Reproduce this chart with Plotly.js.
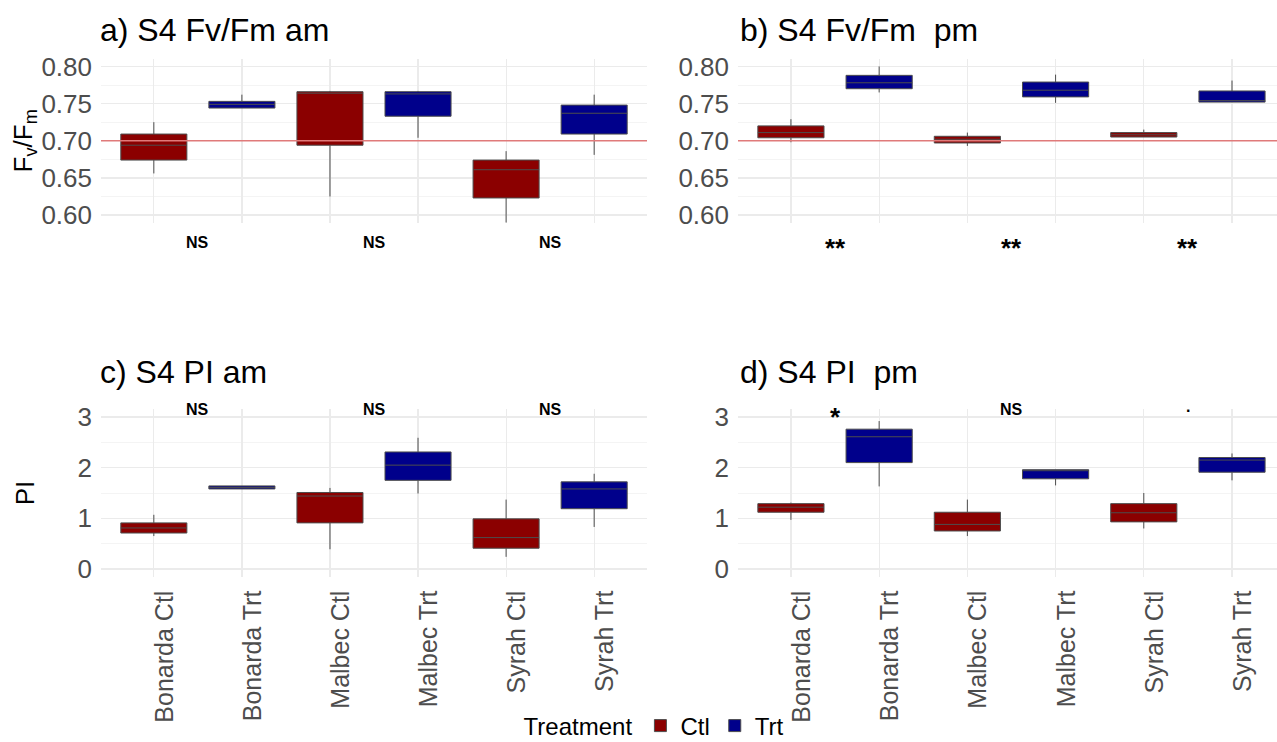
<!DOCTYPE html>
<html>
<head>
<meta charset="utf-8">
<script src="https://cdn.plot.ly/plotly-3.0.1.min.js"></script>
<style>
html,body{margin:0;padding:0;background:#fff;overflow:hidden;}
#chart{width:1277px;height:760px;}
</style>
</head>
<body>
<div id="chart"></div>
<script>
// ---- categories / labels ----
const categories = ['Bonarda Ctl','Bonarda Trt','Malbec Ctl','Malbec Trt','Syrah Ctl','Syrah Trt'];
const ctlCats = ['Bonarda Ctl','Malbec Ctl','Syrah Ctl'];
const trtCats = ['Bonarda Trt','Malbec Trt','Syrah Trt'];
const sigPos = [0.5, 2.5, 4.5];

// ---- a) S4 Fv/Fm am ----
const aCtlQ1  = [0.674, 0.694, 0.623];
const aCtlMed = [0.694, 0.764, 0.661];
const aCtlQ3  = [0.709, 0.766, 0.674];
const aCtlLo  = [0.656, 0.625, 0.589];
const aCtlHi  = [0.725, 0.767, 0.686];
const aTrtQ1  = [0.744, 0.733, 0.709];
const aTrtMed = [0.749, 0.763, 0.737];
const aTrtQ3  = [0.753, 0.766, 0.748];
const aTrtLo  = [0.744, 0.704, 0.681];
const aTrtHi  = [0.762, 0.767, 0.762];
const aSig = ['NS','NS','NS'];

// ---- b) S4 Fv/Fm pm ----
const bCtlQ1  = [0.704, 0.697, 0.705];
const bCtlMed = [0.711, 0.702, 0.708];
const bCtlQ3  = [0.720, 0.706, 0.711];
const bCtlLo  = [0.698, 0.693, 0.705];
const bCtlHi  = [0.729, 0.711, 0.715];
const bTrtQ1  = [0.770, 0.759, 0.752];
const bTrtMed = [0.778, 0.768, 0.754];
const bTrtQ3  = [0.788, 0.779, 0.767];
const bTrtLo  = [0.765, 0.751, 0.752];
const bTrtHi  = [0.800, 0.789, 0.781];
const bSig = ['**','**','**'];

// ---- c) S4 PI am ----
const cCtlQ1  = [0.71, 0.91, 0.41];
const cCtlMed = [0.81, 1.44, 0.62];
const cCtlQ3  = [0.91, 1.51, 0.99];
const cCtlLo  = [0.65, 0.39, 0.24];
const cCtlHi  = [1.07, 1.60, 1.37];
const cTrtQ1  = [1.58, 1.75, 1.19];
const cTrtMed = [1.61, 2.05, 1.58];
const cTrtQ3  = [1.64, 2.31, 1.72];
const cTrtLo  = [1.58, 1.49, 0.83];
const cTrtHi  = [1.64, 2.59, 1.88];
const cSig = ['NS','NS','NS'];

// ---- d) S4 PI pm ----
const dCtlQ1  = [1.12, 0.75, 0.93];
const dCtlMed = [1.22, 0.88, 1.11];
const dCtlQ3  = [1.29, 1.12, 1.29];
const dCtlLo  = [0.97, 0.65, 0.80];
const dCtlHi  = [1.31, 1.37, 1.50];
const dTrtQ1  = [2.10, 1.78, 1.91];
const dTrtMed = [2.61, 1.94, 2.15];
const dTrtQ3  = [2.76, 1.96, 2.20];
const dTrtLo  = [1.63, 1.65, 1.75];
const dTrtHi  = [2.92, 1.96, 2.28];
const dSig = ['*','NS','.'];

const fvThreshold = 0.70;

// ---- styling ----
const FONT = 'Liberation Sans, Arial, sans-serif';
const CTL_COLOR = '#8B0000';
const TRT_COLOR = '#00008B';
const LINE_COLOR = '#4d4d4d';
const GRID = '#ebebeb';
const MINOR_GRID = '#f4f4f4';
const TICK_COLOR = '#4d4d4d';

function boxTrace(name, cats, q1, med, q3, lo, hi, color, xa, ya, showLegend) {
  return {
    type: 'box', name: name, x: cats, q1: q1, median: med, q3: q3,
    lowerfence: lo, upperfence: hi,
    xaxis: xa, yaxis: ya,
    fillcolor: color, line: {color: LINE_COLOR, width: 1},
    whiskerwidth: 0, width: 0.75, boxpoints: false,
    showlegend: showLegend, legendgroup: name, hoverinfo: 'y'
  };
}

const data = [
  boxTrace('Ctl', ctlCats, aCtlQ1, aCtlMed, aCtlQ3, aCtlLo, aCtlHi, CTL_COLOR, 'x', 'y', true),
  boxTrace('Trt', trtCats, aTrtQ1, aTrtMed, aTrtQ3, aTrtLo, aTrtHi, TRT_COLOR, 'x', 'y', true),
  boxTrace('Ctl', ctlCats, bCtlQ1, bCtlMed, bCtlQ3, bCtlLo, bCtlHi, CTL_COLOR, 'x2', 'y2', false),
  boxTrace('Trt', trtCats, bTrtQ1, bTrtMed, bTrtQ3, bTrtLo, bTrtHi, TRT_COLOR, 'x2', 'y2', false),
  boxTrace('Ctl', ctlCats, cCtlQ1, cCtlMed, cCtlQ3, cCtlLo, cCtlHi, CTL_COLOR, 'x3', 'y3', false),
  boxTrace('Trt', trtCats, cTrtQ1, cTrtMed, cTrtQ3, cTrtLo, cTrtHi, TRT_COLOR, 'x3', 'y3', false),
  boxTrace('Ctl', ctlCats, dCtlQ1, dCtlMed, dCtlQ3, dCtlLo, dCtlHi, CTL_COLOR, 'x4', 'y4', false),
  boxTrace('Trt', trtCats, dTrtQ1, dTrtMed, dTrtQ3, dTrtLo, dTrtHi, TRT_COLOR, 'x4', 'y4', false)
];

// figure is a little taller than the 742px window so the legend can sit low
const W = 1277, H = 760;
const px = v => v / W;
const py = v => 1 - v / H;

const fvRange = [0.59, 0.81];
const piRange = [-0.15, 3.15];

function xAxis(domain, range, showLabels, anchor) {
  return {
    type: 'category', categoryorder: 'array', categoryarray: categories,
    domain: domain, range: range, anchor: anchor,
    showgrid: true, gridcolor: GRID, gridwidth: 1.2,
    zeroline: false, showline: false, ticks: '',
    showticklabels: showLabels, tickangle: -90,
    ticklabelstandoff: 8, ticklabelshift: 11,
    tickfont: {family: FONT, size: 25, color: TICK_COLOR}
  };
}
function yAxisFv(domain, anchor, title) {
  return {
    domain: domain, range: fvRange, anchor: anchor,
    tickmode: 'array', tickvals: [0.60, 0.65, 0.70, 0.75, 0.80],
    ticktext: ['0.60','0.65','0.70','0.75','0.80'],
    showgrid: true, gridcolor: GRID, gridwidth: 1.2,
    minor: {tickmode: 'array', tickvals: [0.625, 0.675, 0.725, 0.775], showgrid: true, gridcolor: MINOR_GRID, gridwidth: 1},
    zeroline: false, showline: false, ticks: '', ticklabelstandoff: 8,
    tickfont: {family: FONT, size: 26, color: TICK_COLOR},
    title: title ? {text: title, font: {family: FONT, size: 26, color: '#000'}, standoff: 0} : undefined
  };
}
function yAxisPI(domain, anchor, title) {
  return {
    domain: domain, range: piRange, anchor: anchor,
    tickmode: 'array', tickvals: [0, 1, 2, 3],
    showgrid: true, gridcolor: GRID, gridwidth: 1.2,
    minor: {tickmode: 'array', tickvals: [0.5, 1.5, 2.5], showgrid: true, gridcolor: MINOR_GRID, gridwidth: 1},
    zeroline: false, showline: false, ticks: '', ticklabelstandoff: 8,
    tickfont: {family: FONT, size: 26, color: TICK_COLOR},
    title: title ? {text: title, font: {family: FONT, size: 26, color: '#000'}, standoff: 35} : undefined
  };
}

const xDomL = [px(101), px(647)];
const xDomR = [px(738), 1];
const yDomTop = [py(222.5), py(59)];
const yDomBot = [py(576.6), py(409.4)];
const rangeL = [-0.6, 5.6];
const rangeR = [-0.6, 5.51];

const annotations = [];
function panelTitle(text, xPix, yPix) {
  annotations.push({xref: 'paper', yref: 'paper', x: px(xPix), y: py(yPix),
    xanchor: 'left', yanchor: 'middle', showarrow: false, text: text,
    font: {family: FONT, size: 32, color: '#000'}});
}
panelTitle('a) S4 Fv/Fm am', 98, 30);
panelTitle('b) S4 Fv/Fm&nbsp; pm', 738, 30);
panelTitle('c) S4 PI am', 98, 372);
panelTitle('d) S4 PI&nbsp; pm', 738, 372);

// significance labels: x on the category axis, y given in data units and
// converted to the axis-domain fraction (labels may sit outside the plotting range)
function sigLabels(labels, yVals, xa, yDomRef, range) {
  labels.forEach((t, i) => {
    const isStar = t.indexOf('*') >= 0;
    annotations.push({xref: xa, yref: yDomRef, x: sigPos[i], y: (yVals[i] - range[0]) / (range[1] - range[0]),
      showarrow: false, text: '<b>' + t + '</b>', xanchor: 'center', yanchor: 'middle',
      font: {family: FONT, size: isStar ? 26 : 16, color: '#000'}});
  });
}
sigLabels(aSig, [0.5635, 0.5635, 0.5635], 'x', 'y domain', fvRange);
sigLabels(bSig, [0.5554, 0.5554, 0.5554], 'x2', 'y2 domain', fvRange);
sigLabels(cSig, [3.14, 3.14, 3.14], 'x3', 'y3 domain', piRange);
sigLabels(dSig, [3.00, 3.14, 3.20], 'x4', 'y4 domain', piRange);

const shapes = [
  {type: 'line', xref: 'x domain', yref: 'y', x0: 0, x1: 1, y0: fvThreshold, y1: fvThreshold,
   line: {color: '#e07a7a', width: 1.5}, layer: 'above'},
  {type: 'line', xref: 'x2 domain', yref: 'y2', x0: 0, x1: 1, y0: fvThreshold, y1: fvThreshold,
   line: {color: '#e07a7a', width: 1.5}, layer: 'above'}
];

const layout = {
  width: W, height: H,
  margin: {l: 0, r: 0, t: 0, b: 0},
  paper_bgcolor: '#fff', plot_bgcolor: '#fff',
  font: {family: FONT, color: '#000'},
  boxmode: 'overlay',
  xaxis: xAxis(xDomL, rangeL, false, 'y'),
  yaxis: yAxisFv(yDomTop, 'x', 'F<sub>v</sub>/F<sub>m</sub>'),
  xaxis2: xAxis(xDomR, rangeR, false, 'y2'),
  yaxis2: yAxisFv(yDomTop, 'x2', null),
  xaxis3: xAxis(xDomL, rangeL, true, 'y3'),
  yaxis3: yAxisPI(yDomBot, 'x3', 'PI'),
  xaxis4: xAxis(xDomR, rangeR, true, 'y4'),
  yaxis4: yAxisPI(yDomBot, 'x4', null),
  annotations: annotations,
  shapes: shapes,
  showlegend: true,
  legend: {
    orientation: 'h', x: 0.513, xanchor: 'center', y: py(726), yanchor: 'middle',
    title: {text: 'Treatment', side: 'left', font: {family: FONT, size: 24, color: '#000'}},
    font: {family: FONT, size: 24, color: '#000'},
    itemwidth: 30, tracegroupgap: 0, bgcolor: 'rgba(0,0,0,0)'
  }
};

Plotly.newPlot('chart', data, layout, {staticPlot: true, displayModeBar: false});
</script>
</body>
</html>
